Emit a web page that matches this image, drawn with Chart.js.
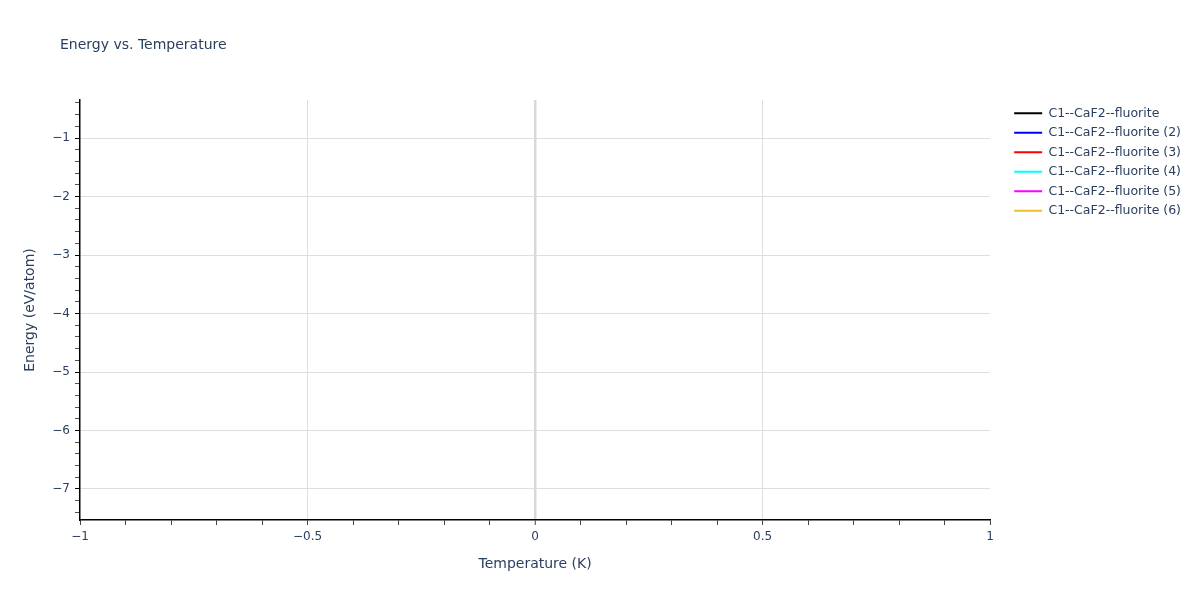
<!DOCTYPE html>
<html lang="en">
<head>
    <meta charset="UTF-8">
    <title>Energy vs. Temperature</title>
    <style>
        body {
            margin: 0;
            padding: 0;
            background: #fff;
        }
        .chart-box {
            width: 1200px;
            height: 600px;
        }
    </style>
</head>
<body>
    <div class="chart-box">
        <canvas id="energyChart"></canvas>
    </div>

    <script src="https://cdn.jsdelivr.net/npm/chart.js"></script>
    <script>
        // series names and colours (the traces carry no points in the picture)
        const seriesNames = [
            'C1--CaF2--fluorite',
            'C1--CaF2--fluorite (2)',
            'C1--CaF2--fluorite (3)',
            'C1--CaF2--fluorite (4)',
            'C1--CaF2--fluorite (5)',
            'C1--CaF2--fluorite (6)'
        ];
        const seriesColors = ['#000000', '#0000ff', '#ff0000', '#00ffff', '#ff00ff', '#f0be28'];
        const temperatures = [];
        const energies = [[], [], [], [], [], []];

        const xRange = [-1, 1];
        const yRange = [-7.53, -0.35];

        const textColor = '#2a3f5f';
        const fontFamily = 'Verdana, "DejaVu Sans", sans-serif';

        function isWhole(v, step) {
            return Math.abs(v / step - Math.round(v / step)) < 1e-6;
        }

        function fmt(v) {
            const r = Math.round(v * 10) / 10;
            if (r === 0) return '0';
            return (r < 0 ? '\u2212' : '') + Math.abs(r);
        }

        // chart title drawn at the top left, like the original
        const titlePlugin = {
            id: 'titleLeft',
            afterDraw(chart) {
                const ctx = chart.ctx;
                ctx.save();
                ctx.font = '14px ' + fontFamily;
                ctx.fillStyle = textColor;
                ctx.textBaseline = 'middle';
                ctx.fillText('Energy vs. Temperature', 60, 45);
                ctx.restore();
            }
        };

        const datasets = seriesNames.map((name, i) => ({
            label: name,
            data: energies[i].map((e, j) => ({ x: temperatures[j], y: e })),
            borderColor: seriesColors[i],
            backgroundColor: seriesColors[i],
            borderWidth: 2,
            pointRadius: 0,
            pointStyle: 'line',
            showLine: true
        }));

        new Chart(document.getElementById('energyChart'), {
            type: 'scatter',
            data: { datasets: datasets },
            plugins: [titlePlugin],
            options: {
                responsive: true,
                maintainAspectRatio: false,
                animation: false,
                layout: {
                    padding: { top: 100, right: 9, left: 0, bottom: 0 }
                },
                plugins: {
                    title: { display: false },
                    tooltip: { enabled: false },
                    legend: {
                        position: 'right',
                        align: 'start',
                        labels: {
                            usePointStyle: true,
                            pointStyleWidth: 28,
                            boxHeight: 12,
                            padding: 7,
                            color: textColor,
                            font: { family: fontFamily, size: 12.5 }
                        }
                    }
                },
                scales: {
                    x: {
                        type: 'linear',
                        min: xRange[0],
                        max: xRange[1],
                        afterFit: s => { s.height = 80; },
                        ticks: {
                            stepSize: 0.1,
                            autoSkip: false,
                            maxRotation: 0,
                            color: textColor,
                            font: { family: fontFamily, size: 12 },
                            padding: 5,
                            callback: v => isWhole(v, 0.5) ? fmt(v) : ''
                        },
                        grid: {
                            drawTicks: true,
                            tickLength: 5,
                            color: c => {
                                const v = c.tick ? c.tick.value : null;
                                if (v === null) return 'rgba(0,0,0,0)';
                                if (Math.abs(v) < 1e-6) return '#d8d8d8';
                                return isWhole(v, 0.5) && Math.abs(v) < 0.99 ? '#dedede' : 'rgba(0,0,0,0)';
                            },
                            lineWidth: c => (c.tick && Math.abs(c.tick.value) < 1e-6) ? 2.5 : 1,
                            tickColor: '#444',
                            tickWidth: 1
                        },
                        border: { display: true, color: '#000', width: 1.5 },
                        title: {
                            display: true,
                            text: 'Temperature (K)',
                            color: textColor,
                            font: { family: fontFamily, size: 14 },
                            padding: { top: 8, bottom: 27 }
                        }
                    },
                    y: {
                        type: 'linear',
                        min: yRange[0],
                        max: yRange[1],
                        afterFit: s => { s.width = 80; },
                        afterBuildTicks: s => {
                            const ticks = [];
                            for (let k = Math.ceil(yRange[0] / 0.2); k * 0.2 <= yRange[1] + 1e-9; k++) {
                                ticks.push({ value: Math.round(k * 0.2 * 10) / 10 });
                            }
                            s.ticks = ticks;
                        },
                        ticks: {
                            autoSkip: false,
                            color: textColor,
                            font: { family: fontFamily, size: 12 },
                            padding: 5,
                            callback: v => isWhole(v, 1) ? fmt(v) : ''
                        },
                        grid: {
                            drawTicks: true,
                            tickLength: 5,
                            color: c => (c.tick && isWhole(c.tick.value, 1)) ? '#dedede' : 'rgba(0,0,0,0)',
                            tickColor: c => (c.tick && isWhole(c.tick.value, 1)) ? '#000' : '#555',
                            tickWidth: 1
                        },
                        border: { display: true, color: '#000', width: 1.5 },
                        title: {
                            display: true,
                            text: 'Energy (eV/atom)',
                            color: textColor,
                            font: { family: fontFamily, size: 14 },
                            padding: { top: 22, bottom: 4 }
                        }
                    },
                    // empty strip keeping the legend away from the plot edge
                    gap: {
                        type: 'linear',
                        position: 'right',
                        display: true,
                        afterFit: s => { s.width = 17; },
                        ticks: { display: false },
                        grid: { display: false, drawTicks: false },
                        border: { display: false }
                    }
                }
            }
        });
    </script>
</body>
</html>
